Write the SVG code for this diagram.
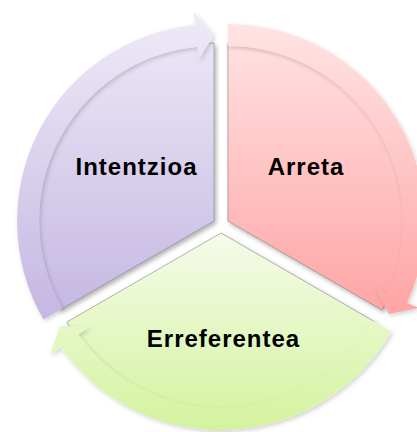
<svg xmlns="http://www.w3.org/2000/svg" width="417" height="432" viewBox="0 0 417 432">
<defs>
<linearGradient id="gP" gradientUnits="userSpaceOnUse" x1="0" y1="12" x2="0" y2="320"><stop offset="0" stop-color="#efeaf8"/><stop offset="1" stop-color="#c4b7e2"/></linearGradient>
<linearGradient id="gR" gradientUnits="userSpaceOnUse" x1="0" y1="24" x2="0" y2="315"><stop offset="0" stop-color="#ffe4e4"/><stop offset="1" stop-color="#ffa4a4"/></linearGradient>
<linearGradient id="gG" gradientUnits="userSpaceOnUse" x1="0" y1="233" x2="0" y2="430"><stop offset="0" stop-color="#f5fbea"/><stop offset="1" stop-color="#d4f39e"/></linearGradient>
<filter id="sh" x="-10%" y="-10%" width="125%" height="125%"><feDropShadow dx="2" dy="2.5" stdDeviation="2" flood-color="#000" flood-opacity="0.3"/></filter>
<filter id="sh2" x="-10%" y="-10%" width="125%" height="125%"><feDropShadow dx="1.5" dy="2" stdDeviation="2" flood-color="#000" flood-opacity="0.18"/></filter>
</defs>
<style>
.wedge{stroke:#6e6e6e;stroke-opacity:0.5;stroke-width:1;filter:url(#sh)}
.band{filter:url(#sh2)}
.lbl{font-family:"Liberation Sans",Arial,sans-serif;font-weight:bold;font-size:24px;letter-spacing:1px;fill:#000;text-anchor:middle}
</style>
<g id="connectors"/>
<g id="node-intentzioa">
<path class="wedge" fill="url(#gP)" d="M214.07,221 L59.92,310 A178,178 0 0 1 214.07,43 Z"/>
<path class="band" fill="url(#gP)" d="M43.47,319.5 A197,197 0 0 1 195.19,24.91 L193.94,11.97 L214.07,35 L198.54,59.75 L197.3,46.8 A175,175 0 0 0 62.52,308.5 Z"/>
<text class="lbl" x="136.5" y="175">Intentzioa</text>
</g>
<g id="node-arreta">
<path class="wedge" fill="url(#gR)" d="M227.93,221 L227.93,43 A178,178 0 0 1 382.08,310 Z"/>
<path class="band" fill="url(#gR)" d="M227.93,24 A197,197 0 0 1 407.19,302.69 L419.02,308.08 L389.01,314 L375.34,288.18 L387.17,293.57 A175,175 0 0 0 227.93,46 Z"/>
<text class="lbl" x="306" y="175">Arreta</text>
</g>
<g id="node-erreferentea">
<path class="wedge" fill="url(#gG)" d="M221,233 L375.15,322 A178,178 0 0 1 66.85,322 Z"/>
<path class="band" fill="url(#gG)" d="M391.6,331.5 A197,197 0 0 1 60.62,347.4 L50.03,354.95 L59.92,326 L89.11,327.07 L78.53,334.62 A175,175 0 0 0 372.55,320.5 Z"/>
<text class="lbl" x="223.5" y="347">Erreferentea</text>
</g>
</svg>
